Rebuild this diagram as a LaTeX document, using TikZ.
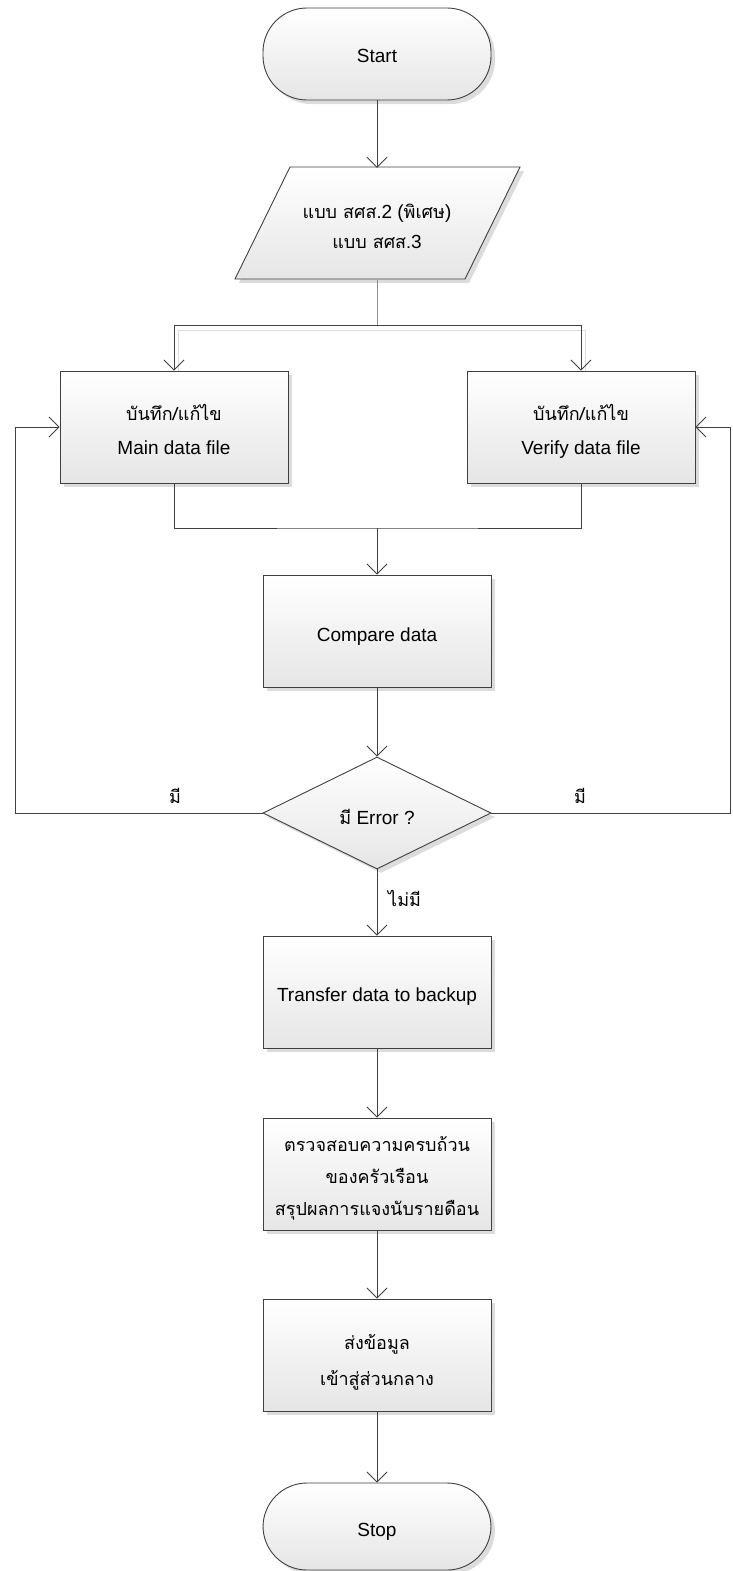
\documentclass[tikz,border=0pt]{standalone}
\usepackage{fontspec}
\setmainfont{Liberation Sans}
\newfontfamily\thai[Script=Thai]{Loma}
\newcommand\thx[1]{{\thai\fontsize{18}{24}\selectfont #1}}
\newcommand\tx[2]{\raisebox{-#1}[\height][\depth]{\begin{tabular}{@{}c@{}}#2\end{tabular}}}
\usetikzlibrary{arrows.meta,shapes.geometric,shadows}
\definecolor{ln}{HTML}{404040}
\definecolor{shd}{HTML}{DCDCDC}
\begin{document}
\begin{tikzpicture}[x=1pt,y=-1pt,
  shape base/.style={draw=ln, line width=0.9pt, top color=white, bottom color=black!10,
     drop shadow={shadow xshift=4pt, shadow yshift=-4pt, fill=shd, opacity=1}},
  txt/.style={font=\fontsize{19}{24}\selectfont},
  box/.style={shape base, txt, rectangle, minimum width=228pt, minimum height=112pt,
     inner sep=2pt},
  term/.style={shape base, txt, rectangle, rounded corners=44pt, minimum width=228pt},
  decision/.style={shape base, txt, diamond, aspect=2.04, inner sep=0pt,
     minimum width=228pt, minimum height=112pt},
  lbl/.style={txt, inner sep=0pt},
  conn/.style={draw=ln, line width=0.9pt},
  arr/.style={conn, -{Straight Barb[length=10pt,width=20pt]}},
  faint/.style={draw=shd, line width=0.9pt}
]
\useasboundingbox (0,0) rectangle (732,1571);

% terminators
\node[term, minimum height=92pt] (start) at (377,54) {\tx{4pt}{Start}};
\node[term, minimum height=87pt] (stop) at (377,1526.5) {\tx{5.5pt}{Stop}};

% parallelogram (input)
\path[shape base] (235,279) -- (465,279) -- (520,167) -- (290,167) -- cycle;
\node[txt, minimum width=230pt, minimum height=112pt, inner sep=0pt] (inp) at (377,224)
  {\tx{5pt}{\thx{แบบ สศส.}2 (\thx{พิเศษ})\\[6pt]\thx{แบบ สศส.}3}};

% process boxes
\node[box] (mainf) at (174,427) {\tx{6pt}{\thx{บันทึก/แก้ไข}\\[10pt]Main data file}};
\node[box] (verf) at (581,427) {\tx{6pt}{\thx{บันทึก/แก้ไข}\\[10pt]Verify data file}};
\node[box] (cmp) at (377,631) {\tx{5.5pt}{Compare data}};
\node[decision] (dec) at (377,813) {\tx{7pt}{\thx{มี} Error ?}};
\node[box] (trans) at (377,992) {\tx{5pt}{Transfer data to backup}};
\node[box] (chk) at (377,1174) {\tx{5pt}{\thx{ตรวจสอบความครบถ้วน}\\[8pt]\thx{ของครัวเรือน}\\[8pt]\thx{สรุปผลการแจงนับรายดือน}}};
\node[box] (send) at (377,1355) {\tx{8pt}{\thx{ส่งข้อมูล}\\[12pt]\thx{เข้าสู่ส่วนกลาง}}};

% helper coordinates
\coordinate (split) at (377,325);
\coordinate (splitS) at (381,330);
\coordinate (join) at (377,528);
\coordinate (lc) at (15,813);
\coordinate (rc) at (730.5,813);

% connectors
\draw[arr] (start.south) -- (inp.north);
\draw[faint] (splitS) -| ([xshift=4pt]mainf.north);
\draw[faint] (splitS) -| ([xshift=4pt]verf.north);
\draw[draw=black!45, line width=0.9pt] (inp.south) -- (split);
\draw[arr] (split) -| (mainf.north);
\draw[arr] (split) -| (verf.north);
\draw[conn] (mainf.south) |- (join) -| (verf.south);
\draw[arr] (join) -- (cmp.north);
\draw[arr] (cmp.south) -- (dec.north);
\draw[arr] (dec.west) -- (lc) |- (mainf.west);
\draw[arr] (dec.east) -- (rc) |- (verf.east);
\draw[arr] (dec.south) -- (trans.north);
\draw[arr] (trans.south) -- (chk.north);
\draw[arr] (chk.south) -- (send.north);
\draw[arr] (send.south) -- (stop.north);

% labels
\node[lbl] (l1) at (175,796) {\thx{มี}};
\node[lbl] (l2) at (580,796) {\thx{มี}};
\node[lbl, anchor=west] (l3) at (388,898) {\thx{ไม่มี}};
\end{tikzpicture}
\end{document}
